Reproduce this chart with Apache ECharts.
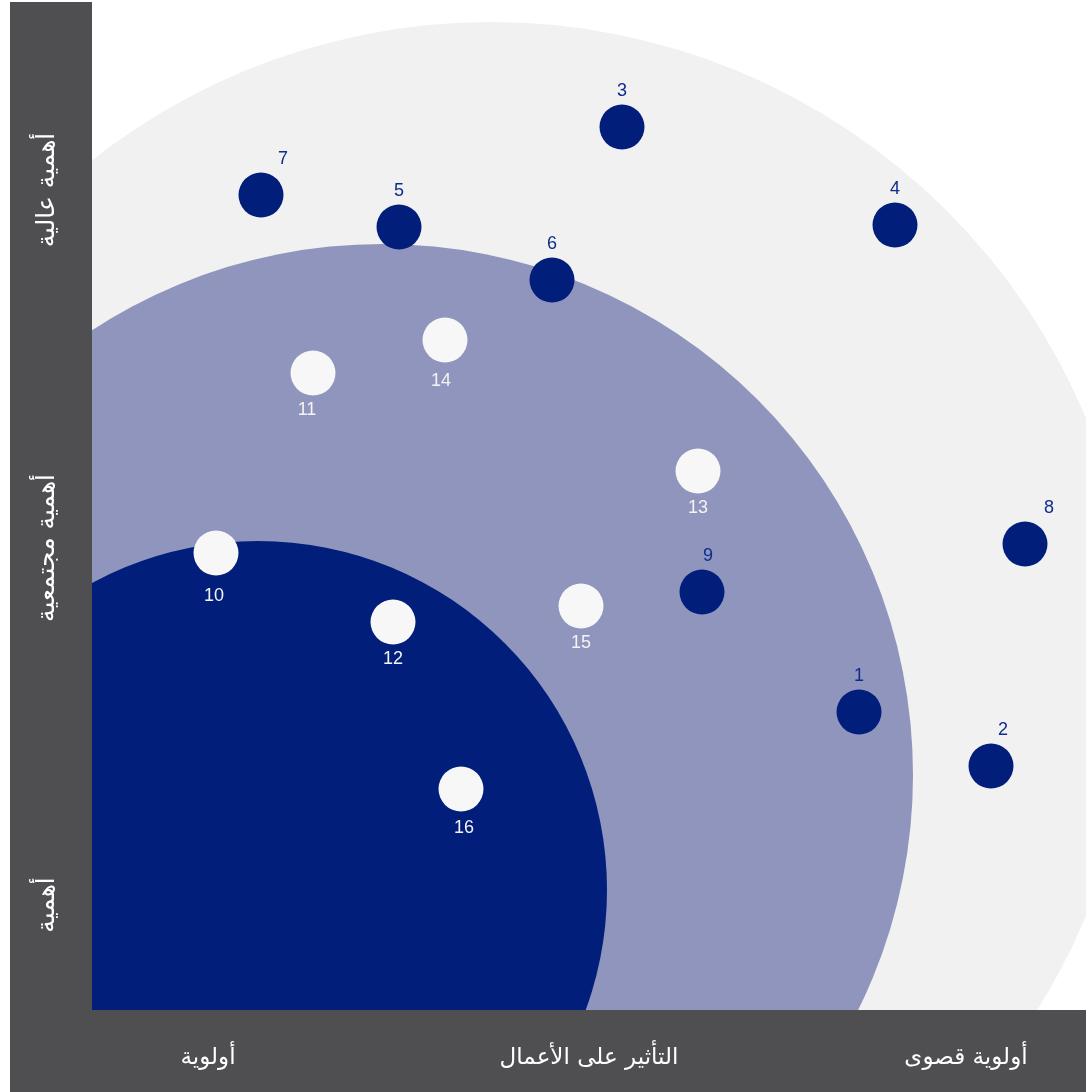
<!DOCTYPE html>
<html>
<head>
<meta charset="utf-8">
<script src="https://cdn.jsdelivr.net/npm/echarts@6/dist/echarts.min.js"></script>
<style>
  html, body { margin: 0; padding: 0; background: #fff; }
  #chart { width: 1086px; height: 1092px; }
</style>
</head>
<body>
<div id="chart"></div>
<script>
// priority rings (center x, center y, radius) in chart units
const ringX = [39.9, 29.0, 16.6];
const ringY = [34.3, 23.5, 12.0];
const ringR = [64.5, 53.1, 34.9];

// topics outside the inner focus (navy dots)
const navyIds = ["1", "2", "3", "4", "5", "6", "7", "8", "9"];
const navyX = [76.7, 89.9, 53.0, 80.3, 30.7, 46.0, 16.9, 93.3, 61.0];
const navyY = [29.8, 24.4, 88.3, 78.5, 78.3, 73.0, 81.5, 46.6, 41.8];

// topics inside (white dots)
const whiteIds = ["10", "11", "12", "13", "14", "15", "16"];
const whiteX = [12.4, 22.1, 30.1, 60.6, 35.3, 48.9, 36.9];
const whiteY = [45.7, 63.7, 38.8, 53.9, 67.0, 40.4, 22.1];

const yLabels = ["أهمية عالية", "أهمية مجتمعية", "أهمية"];
const xLabels = ["أولوية", "التأثير على الأعمال", "أولوية قصوى"];

const ringColors = ["#f1f1f1", "#8f95bd", "#001e7a"];
const barColor = "#4f4f51";
const labelFont = "'Liberation Sans', Arial, sans-serif";
const arabicFont = "'DejaVu Sans', 'Noto Sans', sans-serif";

// small label nudges so numbers sit like the original
const labelNudge = { "7": [22, 0], "8": [24, 0], "2": [12, 0], "9": [6, 0], "11": [-6, 0], "10": [-2, 6], "14": [-4, 4], "16": [3, 2] };

const chart = echarts.init(document.getElementById("chart"));

const ringData = ringX.map((x, i) => [x, ringY[i], ringR[i], i]);

function toPoints(ids, xs, ys) {
  return ids.map((id, i) => ({
    name: id,
    value: [xs[i], ys[i]],
    label: labelNudge[id] ? { offset: labelNudge[id] } : undefined,
  }));
}

const option = {
  animation: false,
  grid: { left: 92, right: 0, top: 2, bottom: 82 },
  xAxis: { type: "value", min: 0, max: 99.4, show: false },
  yAxis: { type: "value", min: 0, max: 100.8, show: false },
  graphic: [
    { type: "rect", left: 10, top: 2, shape: { width: 82, height: 1090 }, style: { fill: barColor }, z: -1 },
    { type: "rect", left: 10, top: 1010, shape: { width: 1076, height: 82 }, style: { fill: barColor }, z: -1 },
    ...yLabels.map((t, i) => ({
      type: "text",
      x: 47,
      y: [190, 548, 905][i],
      rotation: Math.PI / 2,
      style: {
        text: t,
        fill: "#ffffff",
        font: "25px " + arabicFont,
        align: "center",
        verticalAlign: "middle",
      },
    })),
    ...xLabels.map((t, i) => ({
      type: "text",
      x: [208, 589, 966][i],
      y: 1058,
      style: {
        text: t,
        fill: "#ffffff",
        font: "23px " + arabicFont,
        align: "center",
        verticalAlign: "middle",
      },
    })),
  ],
  series: [
    {
      type: "custom",
      clip: true,
      data: ringData,
      z: 1,
      renderItem(params, api) {
        const c = api.coord([api.value(0), api.value(1)]);
        const r = api.size([api.value(2), 0])[0];
        return {
          type: "circle",
          shape: { cx: c[0], cy: c[1], r: r },
          style: { fill: ringColors[api.value(3)] },
        };
      },
    },
    {
      type: "scatter",
      z: 3,
      symbolSize: 45,
      itemStyle: { color: "#001e7a", opacity: 1 },
      label: {
        show: true,
        position: "top",
        distance: 4,
        formatter: "{b}",
        color: "#0d2c8c",
        fontSize: 18,
        fontFamily: labelFont,
      },
      data: toPoints(navyIds, navyX, navyY),
    },
    {
      type: "scatter",
      z: 3,
      symbolSize: 45,
      itemStyle: { color: "#f7f7f7", opacity: 1 },
      label: {
        show: true,
        position: "bottom",
        distance: 6,
        formatter: "{b}",
        color: "#f4f4f4",
        fontSize: 18,
        fontFamily: labelFont,
      },
      data: toPoints(whiteIds, whiteX, whiteY),
    },
  ],
};

chart.setOption(option);
</script>
</body>
</html>
